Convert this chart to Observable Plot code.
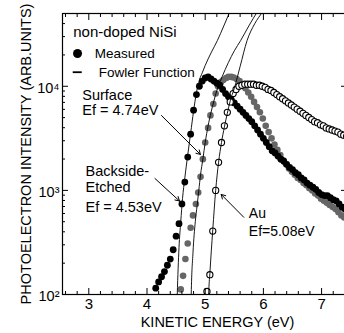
<!DOCTYPE html>
<html><head><meta charset="utf-8">
<script src="https://cdn.jsdelivr.net/npm/d3@7"></script>
<script src="https://cdn.jsdelivr.net/npm/@observablehq/plot@0.6"></script>
<style>
html,body{margin:0;padding:0;background:#fff;}
#chart{width:344px;height:333px;overflow:hidden;}
</style>
</head><body><div id="chart"></div>
<script>
// Measured: Backside-Etched (black filled)
const backsideE = [4.15,4.20,4.25,4.30,4.35,4.40,4.45,4.50,4.55,4.60,4.65,4.70,4.75,4.80,4.85,4.90,4.95,5.00,5.05,5.10,5.15,5.20,5.25,5.30,5.35,5.40,5.45,5.50,5.55,5.60,5.65,5.70,5.75,5.80,5.85,5.90,5.95,6.00,6.05,6.10,6.15,6.20,6.25,6.30,6.35,6.40,6.45,6.50,6.55,6.60,6.65,6.70,6.75,6.80,6.85,6.90,6.95,7.00,7.05,7.10,7.15,7.20,7.25,7.30,7.35,7.40,7.45];
const backsideI = [115,132,148,166,191,219,269,363,479,741,1202,2089,3467,5888,8318,10000,11220,12020,12300,11750,11220,10720,10230,9333,8511,7943,7413,6918,6457,6026,5623,5248,4898,4571,4169,3802,3467,3162,2884,2630,2399,2291,2138,1995,1905,1778,1660,1585,1479,1413,1318,1259,1175,1122,1072,1023,955,912,891,891,851,813,794,741,692,661,631];
// Measured: Surface (gray filled)
const surfaceE = [4.58,4.62,4.66,4.70,4.75,4.79,4.84,4.88,4.92,4.96,5.00,5.05,5.09,5.14,5.18,5.22,5.27,5.31,5.36,5.40,5.45,5.49,5.54,5.59,5.64,5.69,5.74,5.79,5.84,5.89,5.94,5.99,6.04,6.09,6.14,6.19,6.24,6.29,6.34,6.39,6.44,6.49,6.54,6.59,6.64,6.69,6.74,6.79,6.84,6.89,6.94,6.99,7.04,7.09,7.14,7.19,7.24,7.29,7.34,7.39,7.44];
const surfaceI = [112,151,219,309,437,575,741,955,1349,1995,2884,3981,5248,6761,8511,10000,10960,11480,12020,12300,12300,12160,11750,11220,10470,9550,8710,7943,7079,6310,5623,4898,4169,3631,3162,2754,2455,2188,1950,1778,1622,1514,1413,1318,1259,1175,1122,1047,1000,933,891,832,794,759,724,692,661,617,575,550,525];
// Measured: Au (open circles)
const auE = [5.03,5.08,5.13,5.18,5.23,5.28,5.33,5.38,5.43,5.48,5.53,5.58,5.63,5.68,5.73,5.78,5.83,5.88,5.93,5.98,6.03,6.08,6.13,6.18,6.23,6.28,6.33,6.38,6.43,6.48,6.53,6.58,6.63,6.68,6.73,6.78,6.83,6.88,6.93,6.98,7.03,7.08,7.13,7.18,7.23,7.28,7.33,7.38,7.43];
const auI = [107,155,407,1000,1862,2884,4169,5623,7079,8511,9333,10000,10230,10470,10470,10470,10470,10230,10230,10000,9772,9333,9120,8710,8318,7943,7586,7244,6918,6607,6310,6026,5754,5495,5248,5012,4786,4571,4467,4266,4169,3981,3890,3802,3715,3631,3467,3388,3311];
// Fowler function curves
const fowlerBackE = [4.51,4.52,4.55,4.58,4.61,4.65,4.70,4.75,4.80,4.85,4.90,4.95,5.00,5.10,5.21,5.32,5.42,5.48];
const fowlerBackI = [63,100,282,501,832,1318,2188,3548,5754,8710,11480,13490,15850,20890,27540,38020,51290,60260];
const fowlerSurfE = [4.755,4.76,4.79,4.83,4.86,4.89,4.92,4.96,5.00,5.05,5.10,5.15,5.20,5.29,5.40,5.50,5.61,5.75,5.89,5.95];
const fowlerSurfI = [63,100,251,501,708,1000,1413,1995,2884,4169,5623,7244,9120,12300,16980,21880,27540,38020,51290,57540];
const fowlerAuE = [5.055,5.06,5.08,5.13,5.18,5.23,5.28,5.33,5.38,5.43,5.50,5.60,5.72,5.85,5.98,6.05];
const fowlerAuI = [63,100,158,417,1000,1862,2884,4074,5495,7244,9550,15490,27540,39810,51290,58880];

// Axis ticks
const xMajor = [3,4,5,6,7];
const xMinor = [2.6,2.8,3.2,3.4,3.6,3.8,4.2,4.4,4.6,4.8,5.2,5.4,5.6,5.8,6.2,6.4,6.6,6.8,7.2,7.4];
const yMajor = [100,1000,10000];
const yMinor = [200,300,400,500,600,700,800,900,2000,3000,4000,5000,6000,7000,8000,9000,20000,30000,40000];
const supDigits = {"2":"\u00B2","3":"\u00B3","4":"\u2074"};
const xTitle = "KINETIC ENERGY (eV)";
const yTitle = "PHOTOELECTRON INTENSITY (ARB.UNITS)";

// Annotations
const labelText = ["non-doped NiSi","Measured","Fowler Function","Surface","Ef = 4.74eV","Backside-","Etched","Ef = 4.53eV","Au","Ef=5.08eV"];
const labelE = [2.732,3.103,3.172,2.887,2.887,2.943,2.943,2.943,5.749,5.749];
const labelI = [32900,20650,13650,8150,5915,1535,1067,685,596,407];
const labelSize = [15,13.5,13.5,14.5,14.5,14.5,14.5,14.5,14,14];
const arrowE1 = [4.249,4.137,5.663];
const arrowI1 = [5236,1300,552];
const arrowE2 = [4.918,4.558,5.275];
const arrowI2 = [2213,791,914];
const legendDotE = [2.806], legendDotI = [20650];
const legendLineE = [2.732,2.887], legendLineI = [13650];

const toRows = (E, I) => E.map((e, i) => ({e, v: I[i]}));
const backside = toRows(backsideE, backsideI);
const surface = toRows(surfaceE, surfaceI);
const au = toRows(auE, auI);
const fowler = [
  ...toRows(fowlerBackE, fowlerBackI).map(d => ({...d, s: "back"})),
  ...toRows(fowlerSurfE, fowlerSurfI).map(d => ({...d, s: "surf"})),
  ...toRows(fowlerAuE, fowlerAuI).map(d => ({...d, s: "au"}))
];
const labels = labelText.map((t, i) => ({t, e: labelE[i], v: labelI[i], size: labelSize[i]}));
const arrows = arrowE1.map((e, i) => ({x1: e, y1: arrowI1[i], x2: arrowE2[i], y2: arrowI2[i]}));
const legendDot = legendDotE.map((e, i) => ({e, v: legendDotI[i]}));

const font = '"Liberation Sans", Arial, Helvetica, sans-serif';

const chart = Plot.plot({
  width: 344, height: 333,
  marginLeft: 62, marginRight: -2, marginTop: 13, marginBottom: 39,
  style: {fontFamily: font, fontSize: "15px", color: "#000", background: "#fff", overflow: "hidden"},
  x: {domain: [2.548, 7.428]},
  y: {type: "log", domain: [100, 50000]},
  marks: [
    // measured data
    Plot.dot(surface, {x: "e", y: "v", r: 3.3, fill: "#666", stroke: "none", clip: true}),
    Plot.dot(backside, {x: "e", y: "v", r: 3.4, fill: "#000", stroke: "none", clip: true}),
    Plot.dot(au, {x: "e", y: "v", r: 3.1, fill: "#fff", stroke: "#000", strokeWidth: 1.1, clip: true}),
    // Fowler function
    Plot.line(fowler, {x: "e", y: "v", z: "s", stroke: "#000", strokeWidth: 0.9, curve: "monotone-x", clip: true}),
    // frame and ticks (inward)
    Plot.frame({stroke: "#000", strokeWidth: 1.2}),
    Plot.axisX({anchor: "bottom", ticks: xMajor, tickSize: 6, insetBottom: 6, fill: "none", label: null}),
    Plot.axisX({anchor: "bottom", ticks: xMinor, tickSize: 3, insetBottom: 3, fill: "none", label: null}),
    Plot.axisX({anchor: "top", ticks: xMajor, tickSize: 6, insetTop: 6, fill: "none", label: null}),
    Plot.axisX({anchor: "top", ticks: xMinor, tickSize: 3, insetTop: 3, fill: "none", label: null}),
    Plot.axisY({anchor: "left", ticks: yMajor, tickSize: 6, insetLeft: 6, fill: "none", label: null}),
    Plot.axisY({anchor: "left", ticks: yMinor, tickSize: 3, insetLeft: 3, fill: "none", label: null}),
    Plot.axisY({anchor: "right", ticks: yMajor, tickSize: 6, insetRight: 6, fill: "none", label: null}),
    Plot.axisY({anchor: "right", ticks: yMinor, tickSize: 3, insetRight: 3, fill: "none", label: null}),
    // tick labels and titles
    Plot.axisX({anchor: "bottom", ticks: xMajor, tickSize: 0, tickPadding: 4, label: null, fontSize: 15, tickFormat: d => String(d)}),
    Plot.axisY({anchor: "left", ticks: yMajor, tickSize: 0, tickPadding: 3, fontSize: 14.5, dy: 2,
      label: yTitle, labelAnchor: "center", labelOffset: 42, labelArrow: "none",
      tickFormat: d => "10" + supDigits[String(Math.round(Math.log10(d)))]}),
    Plot.text([xTitle], {frameAnchor: "bottom", textAnchor: "middle", lineAnchor: "middle", dx: 13, dy: 28, fontSize: 14.5, fill: "#000"}),
    // legend
    Plot.dot(legendDot, {x: "e", y: "v", r: 4.5, fill: "#000"}),
    Plot.ruleY(legendLineI, {x1: legendLineE[0], x2: legendLineE[1], stroke: "#000", strokeWidth: 1.8}),
    // annotations
    Plot.text(labels, {x: "e", y: "v", text: "t", fontSize: d => d.size, textAnchor: "start", fill: "#000"}),
    Plot.arrow(arrows, {x1: "x1", y1: "y1", x2: "x2", y2: "y2", stroke: "#000", strokeWidth: 1, headLength: 7})
  ]
});
document.getElementById("chart").appendChild(chart);
</script>
</body></html>
